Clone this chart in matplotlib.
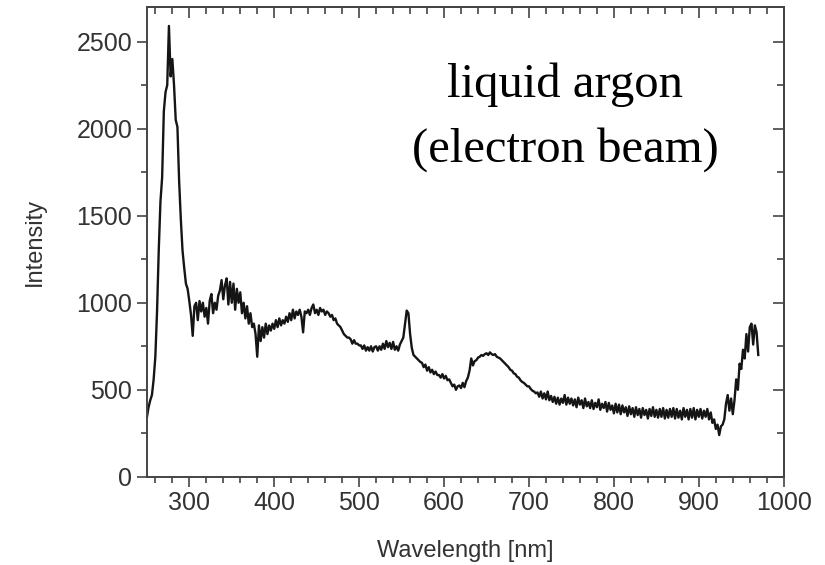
import numpy as np
import matplotlib
matplotlib.use("Agg")
import matplotlib.pyplot as plt
from matplotlib.ticker import MultipleLocator

# emission spectrum, 2 nm sampling from 250 nm
wavelength = np.arange(250, 972, 2)
intensity = [
    340, 400, 440, 470, 560, 690, 950, 1300, 1580, 1720,    # 250
    2100, 2210, 2250, 2590, 2300, 2400, 2250, 2050, 2010, 1700,  # 270
    1480, 1300, 1200, 1110, 1080, 1010, 930, 810, 980, 1000,  # 290
    900, 1010, 950, 1000, 920, 970, 880, 1010, 1050, 940,  # 310
    1000, 960, 1040, 1070, 1130, 1020, 1100, 1140, 990, 1120,  # 330
    1000, 1110, 960, 1080, 1000, 1060, 940, 1000, 910, 980,  # 350
    880, 940, 860, 880, 820, 690, 870, 780, 860, 800,  # 370
    880, 820, 870, 840, 880, 850, 900, 860, 910, 870,  # 390
    900, 880, 920, 890, 940, 900, 960, 910, 950, 930,  # 410
    960, 920, 830, 950, 940, 960, 930, 970, 990, 940,  # 430
    960, 930, 970, 950, 960, 930, 950, 940, 920, 930,  # 450
    900, 910, 880, 870, 860, 840, 820, 810, 800, 800,  # 470
    790, 765, 785, 765, 765, 755, 755, 735, 755, 725,  # 490
    745, 725, 750, 720, 745, 750, 725, 750, 730, 765,  # 510
    735, 780, 745, 770, 735, 775, 730, 750, 725, 760,  # 530
    780, 800, 880, 955, 940, 820, 740, 700, 690, 680,  # 550
    670, 660, 655, 630, 645, 610, 630, 600, 615, 590,  # 570
    605, 585, 585, 570, 590, 565, 580, 555, 560, 540,  # 590
    520, 530, 500, 520, 525, 510, 540, 515, 550, 570,  # 610
    610, 680, 640, 665, 670, 685, 690, 700, 695, 705,  # 630
    710, 700, 715, 705, 700, 705, 690, 685, 680, 670,  # 650
    660, 650, 640, 630, 615, 610, 595, 590, 575, 570,  # 670
    555, 545, 540, 530, 520, 520, 505, 495, 490, 480,  # 690
    485, 460, 490, 450, 480, 445, 490, 440, 465, 430,  # 710
    460, 420, 455, 415, 450, 425, 470, 415, 455, 420,  # 730
    450, 410, 445, 400, 455, 415, 440, 395, 450, 405,  # 750
    430, 395, 440, 390, 425, 400, 445, 385, 420, 395,  # 770
    430, 375, 425, 385, 410, 365, 420, 370, 415, 360,  # 790
    410, 370, 400, 350, 405, 360, 395, 345, 400, 355,  # 810
    390, 340, 395, 355, 385, 335, 390, 350, 400, 345,  # 830
    385, 340, 390, 345, 395, 335, 385, 340, 390, 345,  # 850
    395, 335, 390, 340, 380, 330, 395, 345, 385, 330,  # 870
    390, 340, 395, 330, 385, 345, 390, 335, 380, 345,  # 890
    390, 330, 370, 310, 330, 275, 300, 240, 290, 300,  # 910
    330, 420, 470, 380, 450, 360, 440, 560, 500, 650,  # 930
    620, 730, 680, 820, 720, 860, 880, 760, 870, 830,  # 950
    700,
]

x_major = [300, 400, 500, 600, 700, 800, 900, 1000]
y_major = [0, 500, 1000, 1500, 2000, 2500]

plt.rcParams['font.family'] = ['Liberation Sans', 'DejaVu Sans']
axis_grey = '#444444'

fig = plt.figure(figsize=(8.25, 5.65), dpi=100)
ax = fig.add_axes([0.178, 0.156, 0.772, 0.832])

ax.plot(wavelength, intensity, color='#151515', lw=1.7)

ax.set_xlim(250, 1000)
ax.set_ylim(0, 2700)
ax.set_xticks(x_major)
ax.set_yticks(y_major)
ax.xaxis.set_minor_locator(MultipleLocator(20))
ax.yaxis.set_minor_locator(MultipleLocator(250))
ax.tick_params(which='both', direction='out', colors=axis_grey,
               labelcolor='#333333', labelsize=18, width=1.2)
ax.tick_params(which='major', length=7)
ax.tick_params(which='minor', length=4)
for s in ax.spines.values():
    s.set_color(axis_grey)
    s.set_linewidth(1.4)

# mirrored ticks on top and right, pointing inward
top = ax.secondary_xaxis('top')
top.set_xticks(x_major)
top.xaxis.set_minor_locator(MultipleLocator(20))
top.tick_params(which='both', direction='in', labeltop=False,
                colors=axis_grey, width=1.2)
top.tick_params(which='major', length=8)
top.tick_params(which='minor', length=5)
top.spines['top'].set_color(axis_grey)
top.spines['top'].set_linewidth(1.4)

right = ax.secondary_yaxis('right')
right.set_yticks(y_major)
right.yaxis.set_minor_locator(MultipleLocator(250))
right.tick_params(which='both', direction='in', labelright=False,
                  colors=axis_grey, width=1.2)
right.tick_params(which='major', length=8)
right.tick_params(which='minor', length=5)
right.spines['right'].set_color(axis_grey)
right.spines['right'].set_linewidth(1.4)

ax.set_xlabel('Wavelength [nm]', fontsize=17, color='#333333', labelpad=18)
ax.set_ylabel('Intensity', fontsize=17, color='#333333', labelpad=22)

ax.text(0.657, 0.765, 'liquid argon\n(electron beam)', transform=ax.transAxes,
        ha='center', va='center', fontsize=35, family='Liberation Serif',
        linespacing=1.6, color='black')

fig.savefig('out.png', dpi=100)
